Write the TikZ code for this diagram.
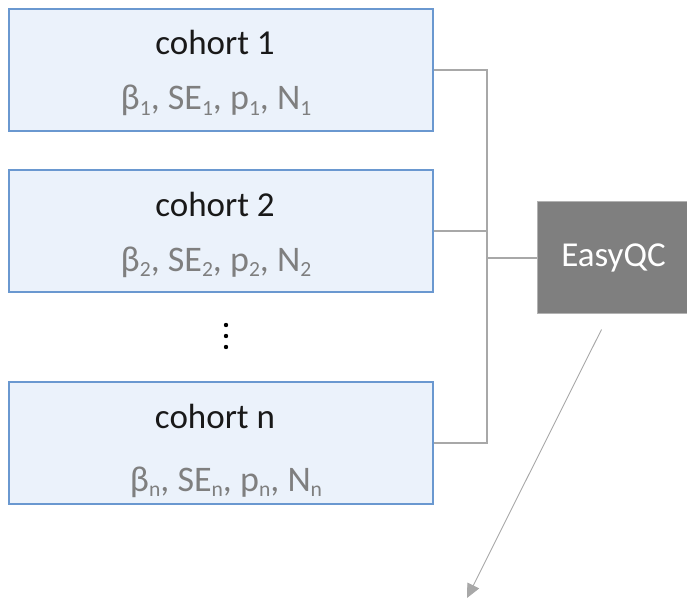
\documentclass[tikz,border=0pt]{standalone}
\usepackage{fontspec}
\setmainfont{Carlito}
\usetikzlibrary{arrows.meta}
\definecolor{boxfill}{HTML}{EBF2FB}
\definecolor{boxline}{HTML}{6A98D0}
\definecolor{linkgray}{HTML}{A8A8A8}
\definecolor{statgray}{HTML}{7F7F7F}
\definecolor{qcfill}{HTML}{7F7F7F}
\newcommand{\lowsub}[1]{\raisebox{-0.14em}{\scalebox{0.6}{#1}}}
\tikzset{
  cohortbox/.style={draw=boxline, line width=1.6pt, fill=boxfill,
    minimum width=424pt, minimum height=122pt, inner sep=0pt},
  titletext/.style={anchor=base, inner sep=0pt, text=black!90,
    font=\fontsize{35}{42}\selectfont},
  stattext/.style={anchor=base, inner sep=0pt, text=statgray,
    font=\fontsize{36}{42}\selectfont},
  link/.style={draw=linkgray, line width=2pt, line join=miter},
  qcbox/.style={draw=gray!60, line width=0.8pt, fill=qcfill, text=white,
    minimum width=152pt, minimum height=112pt, inner sep=0pt,
    font=\fontsize{35}{42}\selectfont},
}
\begin{document}
\begin{tikzpicture}[x=1pt,y=-1pt]
\useasboundingbox (0,0) rectangle (687,599);

% cohort boxes
\node[cohortbox] (c1) at (221,70) {};
\node[cohortbox] (c2) at (221,231) {};
\node[cohortbox] (c3) at (221,443) {};

\node[titletext] (c1t) at (215,55) {cohort 1};
\node[stattext]  (c1s) at (216,110) {β\lowsub{1}, SE\lowsub{1}, p\lowsub{1}, N\lowsub{1}};
\node[titletext] (c2t) at (215,216) {cohort 2};
\node[stattext]  (c2s) at (216,271) {β\lowsub{2}, SE\lowsub{2}, p\lowsub{2}, N\lowsub{2}};
\node[titletext] (c3t) at (215,428) {cohort n};
\node[stattext]  (c3s) at (226,491) {β\lowsub{n}, SE\lowsub{n}, p\lowsub{n}, N\lowsub{n}};

% vertical ellipsis between cohort 2 and cohort n
\fill (226,325) circle (2.2);
\fill (226,336) circle (2.2);
\fill (226,347) circle (2.2);

% EasyQC box
\node[qcbox] (qc) at (613.5,257.5) {EasyQC};

% bracket joining the cohorts to EasyQC
\coordinate (jn) at (486.5,257.5);
\draw[link] (c1.east) -| (jn) |- (c3.east);
\draw[link] (c2.east) -- (c2.east -| jn);
\draw[link] (jn) -- (qc.west);

% output arrow
\coordinate (outstart) at (601.5,329.5);
\coordinate (outend) at (467,598);
\draw[draw=linkgray, line width=0.9pt,
  -{Triangle[length=14pt, width=13pt, fill=linkgray]}] (outstart) -- (outend);
\end{tikzpicture}
\end{document}
